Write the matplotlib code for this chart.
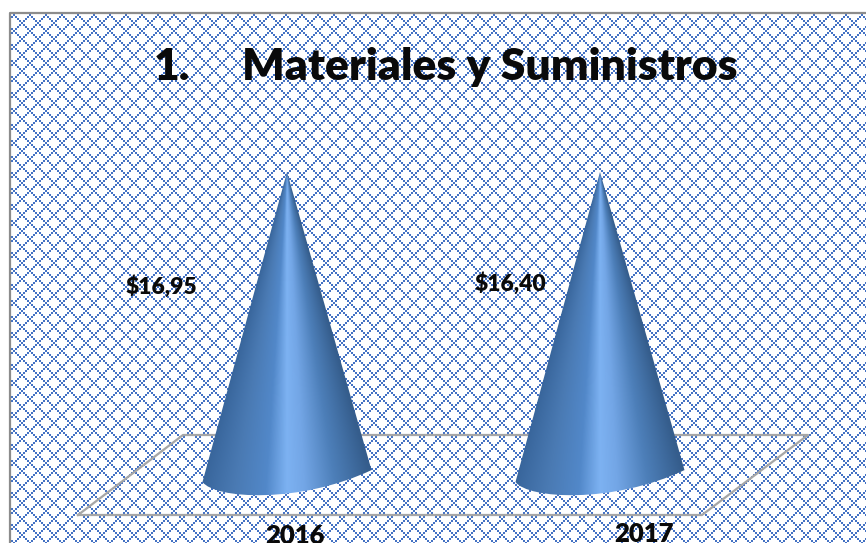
import numpy as np
from matplotlib import pyplot as plt
from matplotlib.patches import PathPatch
from matplotlib.path import Path
from matplotlib.colors import LinearSegmentedColormap

categories = ['2016', '2017']
value_labels = ['$16,95', '$16,40']
# both cones are drawn the same height in the original, whatever the labels say
drawn_heights = [17.0, 17.0]

W, H = 866, 543
fig = plt.figure(figsize=(W / 100, H / 100), dpi=100)

# hatched chart background, 2px blocks stepping along the diagonals
bg = fig.add_axes([0, 0, 1, 1])
yy, xx = np.mgrid[0:H, 0:W]
ci = (xx - 781) // 2
cj = (yy - 14) // 2
lattice = ((ci + cj) % 8 == 0) | ((ci - cj) % 8 == 0)
tile = np.ones((H, W, 3))
tile[lattice] = np.array([68, 114, 196]) / 255
bg.imshow(tile, interpolation='nearest', extent=(0, W, H, 0), aspect='auto')
bg.set_xlim(0, W)
bg.set_ylim(H, 0)
bg.axis('off')
bg.add_patch(plt.Rectangle((0, 0), W, 12, color='white', lw=0))
bg.add_patch(plt.Rectangle((0, 0), 9, H, color='white', lw=0))
bg.plot([10, 10, W], [H, 13, 13], color='#8c8c8c', lw=1.6)

# floor of the 3d plot
bg.plot([78, 702, 808, 183, 78], [515, 515, 435, 435, 515], color='#a6a6a6', lw=1.6)

# plot area, category 0 sits at x=287 and category 1 at x=600, zero at y=478
ax = fig.add_axes([130.5 / W, (H - 532) / H, 626 / W, 360 / H])
ax.patch.set_alpha(0)

shade = LinearSegmentedColormap.from_list('cone', [
    (0.0, '#38659b'), (0.2, '#4a7ab3'), (0.38, '#5288c9'), (0.5, '#7db2f2'),
    (0.6, '#73a6e6'), (0.78, '#4d7fb9'), (1.0, '#355d8c')])

half_w = 0.27
for i, h in enumerate(drawn_heights):
    # edge of the cone, the base is an ellipse seen at a slight tilt
    verts = [(i, h), (i - half_w, -0.22), (i - 0.23, -1.17), (i + 0.04, -1.44), (i + half_w, 0.44), (i, h)]
    codes = [Path.MOVETO, Path.LINETO, Path.CURVE4, Path.CURVE4, Path.CURVE4, Path.LINETO]
    patch = PathPatch(Path(verts, codes), fc='none', ec='none')
    ax.add_patch(patch)
    gx, gy = np.meshgrid(np.linspace(i - 0.3, i + 0.3, 400), np.linspace(h, -1.5, 500))
    t = (gx - i) / np.maximum(h - gy, 1e-3) * h / half_w
    # shading fans out from the apex
    img = ax.imshow(shade(np.clip((t + 1) / 2, 0, 1)), extent=(i - 0.3, i + 0.3, -1.5, h),
                    aspect='auto', interpolation='bilinear', zorder=2)
    img.set_clip_path(patch)
ax.set_xlim(-0.5, 1.5)
ax.set_ylim(-3, 17)
ax.axis('off')

font = ['Lato', 'DejaVu Sans']
ink = '#0a0a0a'
bg.text(172, 80, '1.', fontsize=32, fontweight='heavy', family=font, ha='center', va='baseline', color=ink)
bg.text(490, 80, 'Materiales y Suministros', fontsize=32, fontweight='heavy', family=font,
        ha='center', va='baseline', color=ink)

label_xy = [(161, 287), (510, 284)]
for (x, y), s in zip(label_xy, value_labels):
    bg.text(x, y, s.replace('$', r'\$'), fontsize=16.5, fontweight='heavy', family=font,
            ha='center', va='center', color=ink)

cat_xy = [(295, 544), (644, 542)]
for (x, y), s in zip(cat_xy, categories):
    bg.text(x, y, s, fontsize=18.5, fontweight='heavy', family=font, ha='center', va='baseline', color=ink)

fig.savefig('out.png', dpi=100)
